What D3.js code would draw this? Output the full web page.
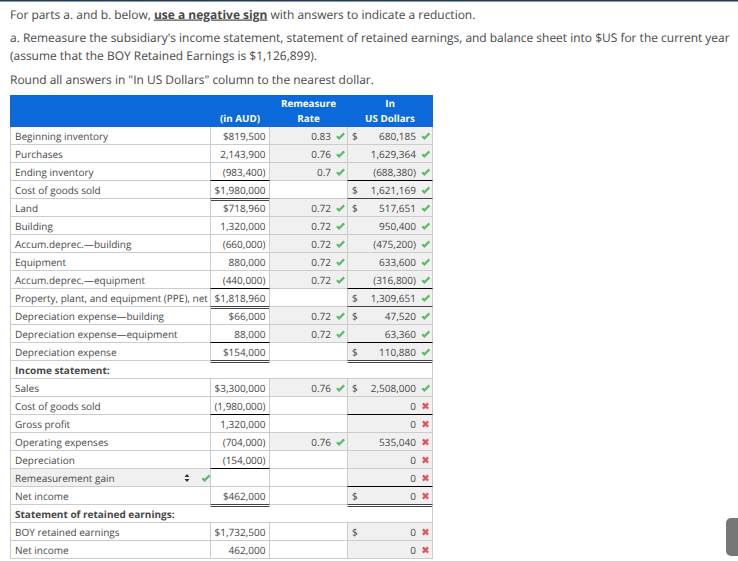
<!DOCTYPE html>
<html>
<head>
<meta charset="utf-8">
<script src="https://cdn.jsdelivr.net/npm/d3@7"></script>
<style>
html, body { margin: 0; padding: 0; background: #fff; overflow: hidden; }
text { font-family: "Open Sans", sans-serif; text-rendering: geometricPrecision; }
</style>
</head>
<body>
<svg id="main" width="738" height="561"></svg>
<script>
var LABELS = ['Beginning inventory', 'Purchases', 'Ending inventory', 'Cost of goods sold', 'Land', 'Building',
    'Accum.deprec.—building', 'Equipment', 'Accum.deprec.—equipment', 'Property, plant, and equipment (PPE), net',
    'Depreciation expense—building', 'Depreciation expense—equipment', 'Depreciation expense', 'Income statement:',
    'Sales', 'Cost of goods sold', 'Gross profit', 'Operating expenses', 'Depreciation', 'Remeasurement gain',
    'Net income', 'Statement of retained earnings:', 'BOY retained earnings', 'Net income'];
var AUD = ['$819,500', '2,143,900', '(983,400)', '$1,980,000', '$718,960', '1,320,000', '(660,000)', '880,000',
    '(440,000)', '$1,818,960', '$66,000', '88,000', '$154,000', null, '$3,300,000', '(1,980,000)', '1,320,000',
    '(704,000)', '(154,000)', '', '$462,000', null, '$1,732,500', '462,000'];
var RATE = ['0.83', '0.76', '0.7', '', '0.72', '0.72', '0.72', '0.72', '0.72', '', '0.72', '0.72', '', '',
    '0.76', '', '', '0.76', '', '', '', '', '', ''];
var USD = ['680,185', '1,629,364', '(688,380)', '1,621,169', '517,651', '950,400', '(475,200)', '633,600',
    '(316,800)', '1,309,651', '47,520', '63,360', '110,880', '', '2,508,000', '0', '0', '535,040', '0', '0', '0',
    '', '0', '0'];
var USD_OK = [1, 1, 1, 1, 1, 1, 1, 1, 1, 1, 1, 1, 1, null, 1, 0, 0, 0, 0, 0, 0, null, 0, 0];
var DOLLAR_ROWS = [0, 3, 4, 9, 10, 12, 14, 20, 22];
var SECTION_ROWS = [13, 21];
var AUD_SUBTOTAL = [3, 9, 12, 16, 19];
var USD_SUBTOTAL = [3, 9, 12, 16, 20];
var TOTAL_ROWS = [3, 9, 12, 20];
var SELECT_ROW = 19;

var svg = d3.select('svg#main');
var GREEN = '#5fba6a', RED = '#e0555a', GRID = '#cccccc', INK = '#484848', BLUE = '#0b69d9';

// column edges
var COL = { label: 10.5, aud: 210.5, rate: 269.5, usd: 347.5, end: 432.5 };

// one row per label
var y = d3.scaleBand()
    .domain(d3.range(LABELS.length))
    .range([127, 127 + 18 * LABELS.length]);

// top border of page
svg.append('rect').attr('width', 738).attr('height', 1.5).attr('fill', '#1f3a52');

// intro text
function introText(x, yy, txt) {
    return svg.append('text').attr('x', x).attr('y', yy)
        .attr('font-size', 11.98).attr('fill', INK).text(txt);
}
var first = introText(10, 18.5, 'For parts a. and b. below, ');
first.append('tspan').attr('font-weight', 700).attr('text-decoration', 'underline').text('use a negative sign');
first.append('tspan').text(' with answers to indicate a reduction.');
introText(10, 42, 'a. Remeasure the subsidiary\'s income statement, statement of retained earnings, and balance sheet into $US for the current year');
introText(10, 60, '(assume that the BOY Retained Earnings is $1,126,899).');
introText(10, 84, 'Round all answers in "In US Dollars" column to the nearest dollar.');

// header
svg.append('rect').attr('x', 10).attr('y', 95).attr('width', 423).attr('height', 32).attr('fill', BLUE);
var HEADERS = [
    { t: '(in AUD)', x: 240, y: 122 },
    { t: 'Remeasure', x: 308.5, y: 107 },
    { t: 'Rate', x: 308.5, y: 122 },
    { t: 'In', x: 390, y: 107 },
    { t: 'US Dollars', x: 390, y: 122 }
];
svg.selectAll('text.head').data(HEADERS).enter().append('text')
    .attr('class', 'head')
    .attr('x', d => d.x).attr('y', d => d.y)
    .attr('text-anchor', 'middle').attr('font-size', 9.8).attr('font-weight', 700).attr('fill', '#fff')
    .text(d => d.t);

var rows = svg.selectAll('g.row').data(LABELS).enter().append('g')
    .attr('class', 'row')
    .attr('transform', (d, i) => `translate(0,${y(i)})`);

// shaded cells
rows.filter((d, i) => i == SELECT_ROW).append('rect')
    .attr('x', COL.label).attr('width', COL.aud - COL.label).attr('height', 18).attr('fill', '#f0f0f0');
rows.filter((d, i) => RATE[i] != '').append('rect')
    .attr('x', COL.rate).attr('width', COL.usd - COL.rate).attr('height', 18).attr('fill', '#f0f0f0');
rows.filter((d, i) => USD[i] != '').append('rect')
    .attr('x', COL.usd).attr('width', COL.end - COL.usd).attr('height', 18).attr('fill', '#f0f0f0');

// grid
rows.append('line').attr('x1', COL.label).attr('x2', COL.end).attr('y1', 17.5).attr('y2', 17.5).attr('stroke', GRID);
rows.append('line').attr('x1', COL.label).attr('x2', COL.label).attr('y1', 0).attr('y2', 18).attr('stroke', GRID);
rows.append('line').attr('x1', COL.end).attr('x2', COL.end).attr('y1', 0).attr('y2', 18).attr('stroke', GRID);
rows.filter((d, i) => !SECTION_ROWS.includes(i)).selectAll('line.col')
    .data([COL.aud, COL.rate, COL.usd]).enter().append('line')
    .attr('x1', d => d).attr('x2', d => d).attr('y1', 0).attr('y2', 18).attr('stroke', GRID);

// subtotal rules
rows.filter((d, i) => AUD_SUBTOTAL.includes(i)).append('line')
    .attr('x1', COL.aud).attr('x2', COL.rate).attr('y1', -0.5).attr('y2', -0.5).attr('stroke', '#000');
rows.filter((d, i) => USD_SUBTOTAL.includes(i)).append('line')
    .attr('x1', COL.usd).attr('x2', COL.end).attr('y1', -0.5).attr('y2', -0.5).attr('stroke', '#000');
[[COL.aud, COL.rate], [COL.usd, COL.end]].forEach(function (c) {
    rows.filter((d, i) => TOTAL_ROWS.includes(i)).append('path')
        .attr('d', `M${c[0]},17.5H${c[1]}M${c[0]},19.5H${c[1]}`)
        .attr('stroke', '#444').attr('fill', 'none');
});

// labels
rows.append('text').attr('x', 15).attr('y', 13).attr('font-size', 10).attr('fill', INK)
    .attr('font-weight', (d, i) => SECTION_ROWS.includes(i) ? 700 : 400)
    .text(d => d);

// values
rows.append('text').attr('x', 265.5).attr('y', 13).attr('font-size', 10).attr('text-anchor', 'end').attr('fill', INK)
    .text((d, i) => AUD[i]);
rows.append('text').attr('x', 331).attr('y', 13).attr('font-size', 10).attr('text-anchor', 'end').attr('fill', INK)
    .text((d, i) => RATE[i]);
rows.append('text').attr('x', 416).attr('y', 13).attr('font-size', 10).attr('text-anchor', 'end').attr('fill', INK)
    .text((d, i) => USD[i]);
rows.filter((d, i) => DOLLAR_ROWS.includes(i)).append('text')
    .attr('x', 352).attr('y', 13).attr('font-size', 10).attr('fill', INK).text('$');

// marks
function addCheck(sel, x) {
    sel.append('path')
        .attr('d', 'M-3.6,0.2L-1.4,2.4L3.6,-2.6')
        .attr('transform', `translate(${x},9)`)
        .attr('fill', 'none').attr('stroke', GREEN).attr('stroke-width', 2.2);
}
function addCross(sel, x) {
    sel.append('path')
        .attr('d', 'M-2.6,-2.6L2.6,2.6M-2.6,2.6L2.6,-2.6')
        .attr('transform', `translate(${x},9)`)
        .attr('fill', 'none').attr('stroke', RED).attr('stroke-width', 2.2);
}
addCheck(rows.filter((d, i) => RATE[i] != ''), 340.5);
addCheck(rows.filter((d, i) => USD_OK[i] === 1), 425.8);
addCross(rows.filter((d, i) => USD_OK[i] === 0), 425.5);

// dropdown in remeasurement row
var sel = rows.filter((d, i) => i == SELECT_ROW);
sel.append('path').attr('d', 'M184.5,8L187,5L189.5,8ZM184.5,10L187,13L189.5,10Z').attr('fill', '#333');
addCheck(sel, 206);

// scroll tab
svg.append('rect').attr('x', 726).attr('y', 518).attr('width', 20).attr('height', 38).attr('rx', 5).attr('fill', '#777');
</script>
</body>
</html>
